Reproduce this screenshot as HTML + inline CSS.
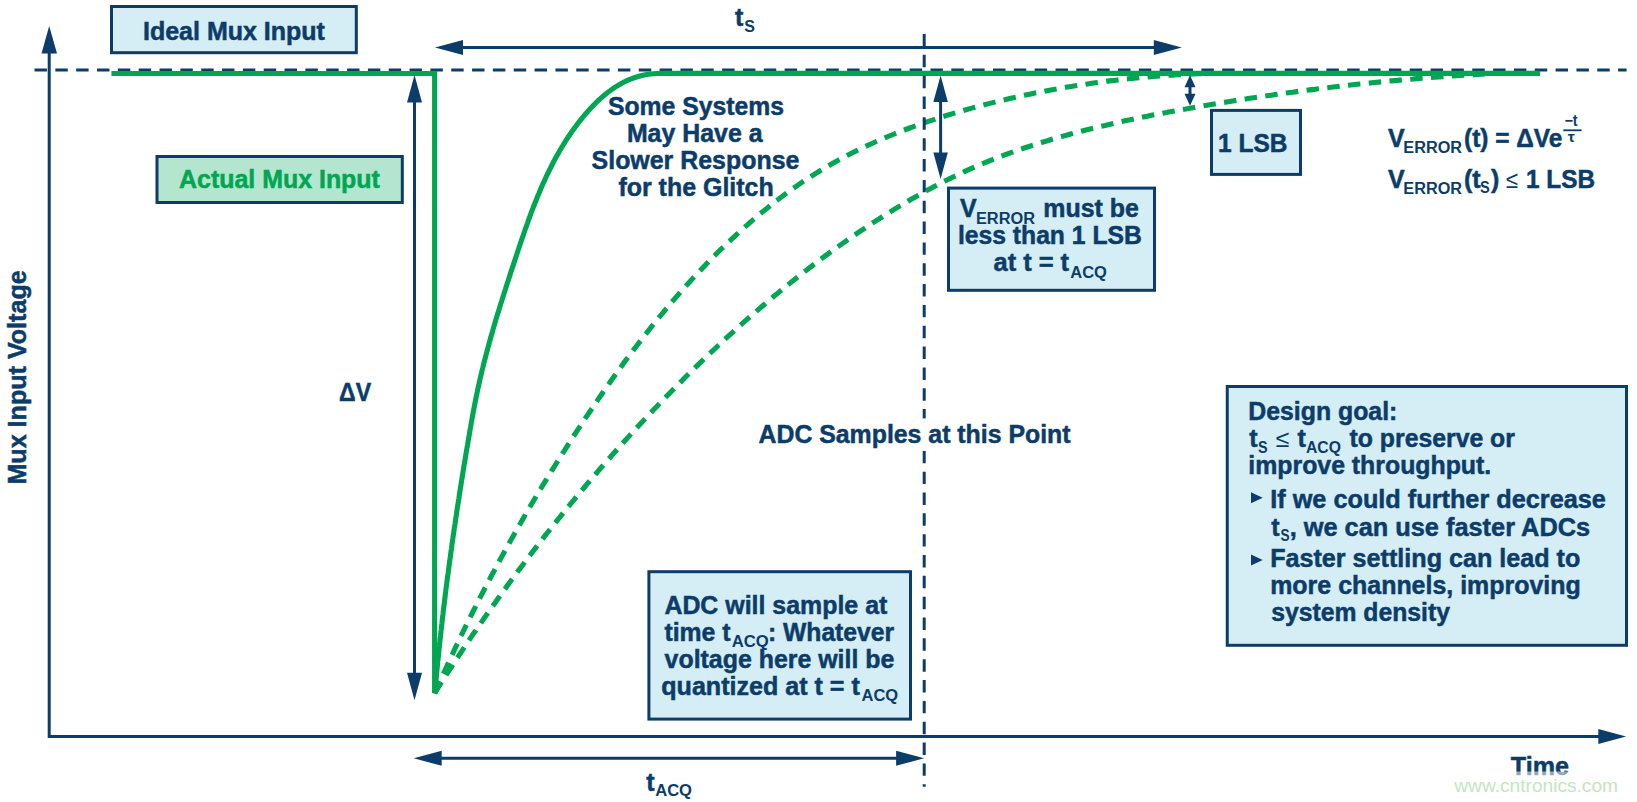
<!DOCTYPE html>
<html lang="en"><head><meta charset="utf-8"><title>Mux Input Settling</title>
<style>
html,body{margin:0;padding:0;background:#fff;}
body{width:1637px;height:802px;overflow:hidden;}
svg{display:block;font-family:"Liberation Sans", Arial, Helvetica, sans-serif;}
text{white-space:pre;}
</style></head><body>
<svg width="1637" height="802" viewBox="0 0 1637 802">
<rect width="1637" height="802" fill="#fff"/>
<line x1="34.5" y1="70" x2="1626.6" y2="70" stroke="#0c3c69" stroke-width="3.0" stroke-dasharray="12.45 8.387"/>
<g fill="none" stroke="#00a651" stroke-width="5.1">
<path d="M111.45,73.45 H434.6 V692 " stroke-linejoin="miter"/>
<path d="M434.9,692.8 L435.2,689.6 L435.5,686.5 L435.7,683.3 L436.0,680.2 L436.3,677.0 L436.6,673.9 L436.9,670.7 L437.2,667.6 L437.5,664.4 L437.8,661.3 L438.2,658.1 L438.5,655.0 L438.8,651.8 L439.1,648.7 L439.5,645.5 L439.8,642.4 L440.1,639.3 L440.5,636.1 L440.8,633.0 L441.2,629.8 L441.5,626.7 L441.9,623.5 L442.2,620.4 L442.6,617.3 L443.0,614.1 L443.3,611.0 L443.7,607.9 L444.1,604.7 L444.5,601.6 L444.9,598.4 L445.2,595.3 L445.6,592.2 L446.0,589.0 L446.4,585.9 L446.8,582.8 L447.2,579.6 L447.6,576.5 L448.1,573.4 L448.5,570.2 L448.9,567.1 L449.3,564.0 L449.7,560.9 L450.2,557.7 L450.6,554.6 L451.0,551.5 L451.5,548.3 L451.9,545.2 L452.3,542.1 L452.8,538.9 L453.2,535.8 L453.7,532.7 L454.1,529.6 L454.6,526.4 L455.1,523.3 L455.5,520.2 L456.0,517.1 L456.5,513.9 L456.9,510.8 L457.4,507.7 L457.9,504.5 L458.4,501.4 L458.9,498.3 L459.3,495.2 L459.8,492.0 L460.3,488.9 L460.8,485.8 L461.3,482.7 L461.8,479.5 L462.3,476.4 L462.8,473.3 L463.3,470.2 L463.8,467.0 L464.3,463.9 L464.9,460.8 L465.4,457.7 L465.9,454.5 L466.4,451.4 L466.9,448.3 L467.5,445.2 L468.0,442.0 L468.5,438.9 L469.1,435.8 L469.6,432.7 L470.1,429.6 L470.7,426.4 L471.2,423.3 L471.8,420.2 L472.3,417.1 L472.9,414.0 L473.5,410.8 L474.1,407.7 L474.7,404.6 L475.3,401.5 L475.9,398.4 L476.5,395.3 L477.2,392.2 L477.8,389.1 L478.5,386.1 L479.2,383.0 L479.9,379.9 L480.6,376.8 L481.3,373.8 L482.0,370.7 L482.8,367.6 L483.5,364.6 L484.3,361.5 L485.1,358.5 L485.9,355.4 L486.7,352.4 L487.5,349.4 L488.3,346.3 L489.1,343.3 L490.0,340.3 L490.8,337.2 L491.7,334.2 L492.6,331.2 L493.4,328.2 L494.3,325.1 L495.2,322.1 L496.1,319.1 L497.0,316.1 L497.9,313.1 L498.9,310.1 L499.8,307.0 L500.7,304.0 L501.7,301.0 L502.6,298.0 L503.6,295.0 L504.5,292.0 L505.5,289.0 L506.4,286.0 L507.4,283.0 L508.4,280.0 L509.4,276.9 L510.3,273.9 L511.3,270.9 L512.3,267.9 L513.3,264.9 L514.3,261.9 L515.3,258.9 L516.3,255.9 L517.3,252.8 L518.3,249.8 L519.3,246.8 L520.3,243.8 L521.3,240.8 L522.3,237.8 L523.4,234.8 L524.4,231.8 L525.4,228.8 L526.5,225.8 L527.6,222.8 L528.6,219.8 L529.7,216.8 L530.8,213.8 L531.9,210.8 L533.1,207.9 L534.2,204.9 L535.4,202.0 L536.6,199.0 L537.7,196.1 L539.0,193.2 L540.2,190.2 L541.4,187.3 L542.7,184.4 L544.0,181.6 L545.3,178.7 L546.6,175.8 L548.0,173.0 L549.4,170.1 L550.8,167.3 L552.2,164.5 L553.6,161.7 L555.1,158.9 L556.6,156.2 L558.2,153.4 L559.7,150.7 L561.3,148.0 L563.0,145.3 L564.6,142.6 L566.3,139.9 L568.0,137.3 L569.8,134.7 L571.6,132.0 L573.4,129.5 L575.3,126.9 L577.2,124.4 L579.1,121.8 L581.1,119.3 L583.1,116.9 L585.2,114.4 L587.3,112.0 L589.4,109.6 L591.6,107.3 L593.8,105.0 L596.0,102.7 L598.3,100.5 L600.7,98.4 L603.0,96.3 L605.5,94.3 L607.9,92.3 L610.4,90.5 L613.0,88.7 L615.6,86.9 L618.2,85.3 L620.9,83.8 L623.6,82.3 L626.4,80.9 L629.2,79.7 L632.1,78.5 L635.0,77.5 L638.0,76.5 L641.0,75.7 L644.0,75.0 L647.1,74.4 L650.3,74.0 L653.5,73.7 L656.7,73.5 L660.0,73.4 H1540" stroke-linejoin="round"/>
<polygon points="432,690 437,690 437.3,694.5 432,693" fill="#00a651" stroke="none"/>
<path d="M434.9,692.8 L436.6,689.0 L438.2,685.3 L439.9,681.5 L441.6,677.7 L443.3,674.0 L445.0,670.2 L446.7,666.5 L448.4,662.8 L450.1,659.0 L451.9,655.3 L453.6,651.6 L455.3,647.9 L457.1,644.2 L458.9,640.5 L460.6,636.7 L462.4,633.1 L464.2,629.4 L466.0,625.7 L467.8,622.0 L469.7,618.3 L471.5,614.6 L473.3,611.0 L475.2,607.3 L477.0,603.6 L478.9,600.0 L480.7,596.3 L482.6,592.7 L484.5,589.0 L486.4,585.4 L488.3,581.8 L490.2,578.2 L492.1,574.5 L494.1,570.9 L496.0,567.3 L497.9,563.7 L499.9,560.1 L501.9,556.5 L503.8,552.9 L505.8,549.3 L507.8,545.7 L509.8,542.1 L511.8,538.6 L513.8,535.0 L515.8,531.4 L517.8,527.9 L519.9,524.3 L521.9,520.7 L523.9,517.2 L526.0,513.7 L528.1,510.1 L530.1,506.6 L532.2,503.0 L534.3,499.5 L536.4,496.0 L538.5,492.5 L540.6,489.0 L542.7,485.4 L544.9,481.9 L547.0,478.4 L549.2,474.9 L551.3,471.4 L553.5,468.0 L555.6,464.5 L557.8,461.0 L560.0,457.5 L562.2,454.0 L564.4,450.6 L566.6,447.1 L568.8,443.6 L571.0,440.2 L573.2,436.7 L575.5,433.3 L577.7,429.8 L580.0,426.4 L582.2,423.0 L584.5,419.5 L586.8,416.1 L589.1,412.7 L591.4,409.3 L593.7,405.9 L596.0,402.5 L598.3,399.1 L600.6,395.7 L603.0,392.3 L605.3,388.9 L607.7,385.5 L610.0,382.2 L612.4,378.8 L614.8,375.5 L617.2,372.1 L619.6,368.8 L622.0,365.5 L624.4,362.1 L626.9,358.8 L629.3,355.5 L631.8,352.2 L634.3,348.9 L636.8,345.7 L639.3,342.4 L641.8,339.2 L644.3,335.9 L646.8,332.7 L649.4,329.4 L651.9,326.2 L654.5,323.0 L657.1,319.8 L659.7,316.7 L662.3,313.5 L664.9,310.3 L667.5,307.2 L670.2,304.0 L672.8,300.9 L675.5,297.8 L678.2,294.7 L680.9,291.6 L683.6,288.6 L686.3,285.5 L689.1,282.5 L691.9,279.4 L694.6,276.4 L697.4,273.4 L700.2,270.4 L703.1,267.4 L705.9,264.5 L708.7,261.5 L711.6,258.6 L714.5,255.7 L717.4,252.8 L720.3,249.9 L723.3,247.1 L726.2,244.2 L729.2,241.4 L732.2,238.6 L735.2,235.8 L738.2,233.0 L741.2,230.2 L744.3,227.5 L747.4,224.8 L750.4,222.1 L753.6,219.4 L756.7,216.7 L759.8,214.1 L763.0,211.5 L766.2,208.9 L769.4,206.3 L772.6,203.7 L775.8,201.2 L779.1,198.7 L782.4,196.3 L785.7,193.8 L789.0,191.4 L792.3,189.0 L795.7,186.7 L799.0,184.3 L802.4,182.0 L805.8,179.8 L809.3,177.5 L812.7,175.3 L816.2,173.1 L819.7,171.0 L823.2,168.9 L826.7,166.8 L830.3,164.7 L833.8,162.7 L837.4,160.7 L841.0,158.8 L844.6,156.8 L848.2,154.9 L851.9,153.1 L855.5,151.2 L859.2,149.4 L862.9,147.6 L866.6,145.9 L870.3,144.2 L874.1,142.5 L877.8,140.8 L881.6,139.2 L885.4,137.6 L889.2,136.0 L893.0,134.5 L896.8,132.9 L900.6,131.4 L904.4,130.0 L908.3,128.5 L912.1,127.1 L916.0,125.7 L919.9,124.3 L923.8,122.9 L927.7,121.6 L931.6,120.3 L935.5,119.0 L939.4,117.8 L943.3,116.5 L947.2,115.3 L951.2,114.1 L955.1,112.9 L959.1,111.7 L963.0,110.6 L967.0,109.5 L970.9,108.4 L974.9,107.3 L978.9,106.2 L982.8,105.1 L986.8,104.1 L990.8,103.1 L994.8,102.1 L998.8,101.1 L1002.8,100.1 L1006.8,99.2 L1010.8,98.3 L1014.8,97.4 L1018.8,96.5 L1022.8,95.6 L1026.8,94.7 L1030.8,93.9 L1034.8,93.1 L1038.9,92.3 L1042.9,91.5 L1046.9,90.7 L1051.0,89.9 L1055.0,89.2 L1059.0,88.5 L1063.1,87.8 L1067.1,87.1 L1071.2,86.4 L1075.2,85.8 L1079.3,85.1 L1083.3,84.5 L1087.4,83.9 L1091.4,83.3 L1095.5,82.7 L1099.6,82.2 L1103.6,81.7 L1107.7,81.1 L1111.8,80.6 L1115.9,80.2 L1119.9,79.7 L1124.0,79.2 L1128.1,78.8 L1132.2,78.4 L1136.3,78.0 L1140.3,77.6 L1144.4,77.2 L1148.5,76.9 L1152.6,76.5 L1156.7,76.2 L1160.8,75.9 L1164.9,75.6 L1169.0,75.3 L1173.1,75.1 L1177.2,74.8 L1181.3,74.6 L1185.4,74.4 L1189.5,74.2 L1193.6,74.0 L1197.7,73.8 L1201.8,73.7 L1205.9,73.6 L1210.0,73.4" stroke-dasharray="12.45 8.4"/>
<path d="M434.9,692.8 L437.2,689.1 L439.5,685.5 L441.8,681.8 L444.2,678.2 L446.5,674.5 L448.8,670.9 L451.2,667.3 L453.5,663.6 L455.9,660.0 L458.3,656.4 L460.7,652.8 L463.1,649.2 L465.5,645.6 L467.9,642.0 L470.3,638.4 L472.7,634.8 L475.2,631.3 L477.6,627.7 L480.1,624.1 L482.5,620.6 L485.0,617.0 L487.5,613.5 L490.0,609.9 L492.5,606.4 L495.0,602.9 L497.5,599.3 L500.0,595.8 L502.5,592.3 L505.1,588.8 L507.6,585.3 L510.2,581.8 L512.7,578.3 L515.3,574.8 L517.9,571.3 L520.5,567.9 L523.1,564.4 L525.7,560.9 L528.3,557.5 L530.9,554.0 L533.5,550.6 L536.2,547.2 L538.8,543.7 L541.5,540.3 L544.1,536.9 L546.8,533.5 L549.5,530.1 L552.2,526.7 L554.9,523.3 L557.6,519.9 L560.3,516.6 L563.0,513.2 L565.7,509.8 L568.5,506.5 L571.2,503.1 L574.0,499.8 L576.7,496.4 L579.5,493.1 L582.3,489.8 L585.1,486.5 L587.8,483.2 L590.6,479.9 L593.5,476.6 L596.3,473.3 L599.1,470.0 L601.9,466.7 L604.8,463.5 L607.6,460.2 L610.5,457.0 L613.3,453.7 L616.2,450.5 L619.1,447.3 L622.0,444.0 L624.9,440.8 L627.8,437.6 L630.7,434.4 L633.6,431.2 L636.6,428.0 L639.5,424.8 L642.4,421.7 L645.4,418.5 L648.4,415.4 L651.3,412.2 L654.3,409.1 L657.3,405.9 L660.3,402.8 L663.3,399.7 L666.3,396.6 L669.3,393.5 L672.3,390.4 L675.4,387.3 L678.4,384.2 L681.5,381.2 L684.5,378.1 L687.6,375.0 L690.7,372.0 L693.8,369.0 L696.9,365.9 L700.0,362.9 L703.1,359.9 L706.2,356.9 L709.3,353.9 L712.5,351.0 L715.6,348.0 L718.8,345.0 L721.9,342.1 L725.1,339.1 L728.3,336.2 L731.5,333.3 L734.7,330.4 L737.9,327.5 L741.1,324.6 L744.4,321.7 L747.6,318.9 L750.9,316.0 L754.1,313.2 L757.4,310.3 L760.7,307.5 L764.0,304.7 L767.3,301.9 L770.6,299.1 L773.9,296.3 L777.2,293.6 L780.6,290.8 L783.9,288.1 L787.3,285.3 L790.6,282.6 L794.0,279.9 L797.4,277.2 L800.8,274.5 L804.2,271.9 L807.6,269.2 L811.1,266.6 L814.5,264.0 L818.0,261.3 L821.4,258.7 L824.9,256.2 L828.4,253.6 L831.9,251.0 L835.4,248.5 L838.9,246.0 L842.5,243.5 L846.0,241.0 L849.6,238.5 L853.1,236.0 L856.7,233.6 L860.3,231.2 L863.9,228.8 L867.5,226.4 L871.1,224.0 L874.7,221.6 L878.4,219.3 L882.0,217.0 L885.7,214.6 L889.4,212.4 L893.0,210.1 L896.7,207.8 L900.4,205.6 L904.2,203.4 L907.9,201.2 L911.6,199.0 L915.4,196.9 L919.2,194.7 L923.0,192.6 L926.7,190.5 L930.6,188.5 L934.4,186.4 L938.2,184.4 L942.0,182.4 L945.9,180.5 L949.8,178.6 L953.7,176.7 L957.6,174.8 L961.5,172.9 L965.4,171.1 L969.3,169.4 L973.3,167.6 L977.3,165.9 L981.3,164.2 L985.2,162.5 L989.3,160.9 L993.3,159.3 L997.3,157.8 L1001.4,156.2 L1005.4,154.7 L1009.5,153.2 L1013.5,151.7 L1017.6,150.3 L1021.7,148.9 L1025.8,147.5 L1029.9,146.2 L1034.1,144.8 L1038.2,143.5 L1042.3,142.2 L1046.5,141.0 L1050.6,139.7 L1054.8,138.5 L1058.9,137.3 L1063.1,136.1 L1067.2,135.0 L1071.4,133.8 L1075.6,132.7 L1079.8,131.6 L1084.0,130.5 L1088.2,129.4 L1092.4,128.4 L1096.6,127.4 L1100.8,126.3 L1105.0,125.4 L1109.2,124.4 L1113.4,123.4 L1117.6,122.5 L1121.9,121.5 L1126.1,120.6 L1130.3,119.7 L1134.6,118.8 L1138.8,117.9 L1143.0,117.0 L1147.3,116.2 L1151.5,115.3 L1155.8,114.5 L1160.0,113.7 L1164.3,112.9 L1168.5,112.1 L1172.8,111.3 L1177.1,110.5 L1181.3,109.7 L1185.6,109.0 L1189.9,108.2 L1194.1,107.4 L1198.4,106.7 L1202.6,106.0 L1206.9,105.2 L1211.2,104.5 L1215.5,103.8 L1219.7,103.1 L1224.0,102.4 L1228.3,101.7 L1232.5,101.0 L1236.8,100.3 L1241.1,99.6 L1245.4,99.0 L1249.7,98.3 L1253.9,97.7 L1258.2,97.0 L1262.5,96.4 L1266.8,95.8 L1271.1,95.2 L1275.4,94.5 L1279.6,93.9 L1283.9,93.3 L1288.2,92.7 L1292.5,92.2 L1296.8,91.6 L1301.1,91.0 L1305.4,90.5 L1309.7,89.9 L1314.0,89.4 L1318.2,88.8 L1322.5,88.3 L1326.8,87.8 L1331.1,87.3 L1335.4,86.8 L1339.7,86.3 L1344.0,85.8 L1348.3,85.3 L1352.6,84.8 L1356.9,84.3 L1361.2,83.9 L1365.5,83.4 L1369.8,83.0 L1374.2,82.5 L1378.5,82.1 L1382.8,81.7 L1387.1,81.3 L1391.4,80.9 L1395.7,80.5 L1400.0,80.1 L1404.3,79.7 L1408.6,79.3 L1412.9,79.0 L1417.2,78.6 L1421.6,78.2 L1425.9,77.9 L1430.2,77.6 L1434.5,77.2 L1438.8,76.9 L1443.1,76.6 L1447.5,76.3 L1451.8,76.0 L1456.1,75.7 L1460.4,75.4 L1464.7,75.1 L1469.1,74.9 L1473.4,74.6 L1477.7,74.4 L1482.0,74.1 L1486.4,73.9 L1490.7,73.7 L1495.0,73.4" stroke-dasharray="12.45 8.4"/>
</g>
<line x1="924.2" y1="34" x2="924.2" y2="786.8" stroke="#0c3c69" stroke-width="3.0" stroke-dasharray="12.45 8.39"/>
<rect x="920" y="418.4" width="9" height="32.4" fill="#fff"/>
<path d="M49.2,52 V736.4 H1600" fill="none" stroke="#0c3c69" stroke-width="3.0"/>
<polygon points="49.2,26 41.5,53.5 57,53.5" fill="#0c3c69"/>
<polygon points="1626.1,736.4 1598.3,729 1598.3,743.9" fill="#0c3c69"/>
<line x1="461" y1="47.5" x2="1155.8" y2="47.5" stroke="#0c3c69" stroke-width="3.0"/><polygon points="435,47.5 463,40.0 463,55.0" fill="#0c3c69"/><polygon points="1181.8,47.5 1153.8,40.0 1153.8,55.0" fill="#0c3c69"/>
<line x1="439.7" y1="758.3" x2="898.1" y2="758.3" stroke="#0c3c69" stroke-width="3.0"/><polygon points="413.7,758.3 441.7,750.8 441.7,765.8" fill="#0c3c69"/><polygon points="924.1,758.3 896.1,750.8 896.1,765.8" fill="#0c3c69"/>
<line x1="414.5" y1="100.5" x2="414.5" y2="674.8" stroke="#0c3c69" stroke-width="3.0"/><polygon points="414.5,75 407.0,102.5 422.0,102.5" fill="#0c3c69"/><polygon points="414.5,700.3 407.0,672.8 422.0,672.8" fill="#0c3c69"/>
<line x1="940.6" y1="100.0" x2="940.6" y2="154.4" stroke="#0c3c69" stroke-width="3.0"/><polygon points="940.6,75.5 933.35,102.0 947.85,102.0" fill="#0c3c69"/><polygon points="940.6,178.9 933.35,152.4 947.85,152.4" fill="#0c3c69"/>
<line x1="1190" y1="85.3" x2="1190" y2="95.8" stroke="#0c3c69" stroke-width="3.0"/><polygon points="1190,75.3 1184.5,87.3 1195.5,87.3" fill="#0c3c69"/><polygon points="1190,105.8 1184.5,93.8 1195.5,93.8" fill="#0c3c69"/>
<rect x="111.50" y="6.50" width="244.80" height="46.20" fill="#d5eef6" stroke="#0c3c69" stroke-width="3.0"/>
<rect x="157.00" y="156.50" width="245.30" height="46.00" fill="#b3e5cf" stroke="#0c3c69" stroke-width="3.0"/>
<rect x="948.50" y="188.10" width="206.00" height="102.20" fill="#d5eef6" stroke="#0c3c69" stroke-width="3.0"/>
<rect x="648.90" y="571.70" width="261.60" height="147.40" fill="#d5eef6" stroke="#0c3c69" stroke-width="3.0"/>
<rect x="1211.50" y="110.40" width="89.00" height="64.00" fill="#d5eef6" stroke="#0c3c69" stroke-width="3.0"/>
<rect x="1227.25" y="386.50" width="399.25" height="258.80" fill="#d5eef6" stroke="#0c3c69" stroke-width="3.0"/>
<text x="143.0" y="40" font-size="25" font-weight="bold" fill="#0c3c69" text-anchor="start" textLength="181.9" lengthAdjust="spacingAndGlyphs" stroke="#0c3c69" stroke-width="0.5">Ideal Mux Input</text>
<text x="179.0" y="187.8" font-size="25" font-weight="bold" fill="#00a651" text-anchor="start" textLength="200.9" lengthAdjust="spacingAndGlyphs" stroke="#00a651" stroke-width="0.5">Actual Mux Input</text>
<text x="735.0" y="26" font-size="25" font-weight="bold" fill="#0c3c69" text-anchor="start" stroke="#0c3c69" stroke-width="0.5">t</text>
<text x="744.2" y="31.8" font-size="16" font-weight="bold" fill="#0c3c69" text-anchor="start">S</text>
<text x="607.9" y="115.0" font-size="25" font-weight="bold" fill="#0c3c69" text-anchor="start" textLength="176.2" lengthAdjust="spacingAndGlyphs" stroke="#0c3c69" stroke-width="0.5">Some Systems</text>
<text x="626.9" y="141.95" font-size="25" font-weight="bold" fill="#0c3c69" text-anchor="start" textLength="135.6" lengthAdjust="spacingAndGlyphs" stroke="#0c3c69" stroke-width="0.5">May Have a</text>
<text x="591.6" y="168.9" font-size="25" font-weight="bold" fill="#0c3c69" text-anchor="start" textLength="207.8" lengthAdjust="spacingAndGlyphs" stroke="#0c3c69" stroke-width="0.5">Slower Response</text>
<text x="618.4" y="195.85" font-size="25" font-weight="bold" fill="#0c3c69" text-anchor="start" textLength="155.3" lengthAdjust="spacingAndGlyphs" stroke="#0c3c69" stroke-width="0.5">for the Glitch</text>
<text x="339.07" y="400.5" font-size="25" font-weight="bold" fill="#0c3c69" text-anchor="start" textLength="32.1" lengthAdjust="spacingAndGlyphs" stroke="#0c3c69" stroke-width="0.5">ΔV</text>
<text x="758.5" y="442.5" font-size="25" font-weight="bold" fill="#0c3c69" text-anchor="start" textLength="312.0" lengthAdjust="spacingAndGlyphs" stroke="#0c3c69" stroke-width="0.5">ADC Samples at this Point</text>
<text transform="translate(25.5,484.60) rotate(-90)" font-size="25" font-weight="bold" fill="#0c3c69" stroke="#0c3c69" stroke-width="0.5" textLength="214.3" lengthAdjust="spacingAndGlyphs">Mux Input Voltage</text>
<text x="1510.8" y="775.1" font-size="25" font-weight="bold" fill="#0c3c69" text-anchor="start" textLength="58.2" lengthAdjust="spacingAndGlyphs" stroke="#0c3c69" stroke-width="0.5">Time</text>
<text x="646.3" y="791.2" font-size="25" font-weight="bold" fill="#0c3c69" text-anchor="start" stroke="#0c3c69" stroke-width="0.5">t</text>
<text x="655.2" y="796" font-size="16" font-weight="bold" fill="#0c3c69" text-anchor="start" textLength="36.8" lengthAdjust="spacingAndGlyphs">ACQ</text>
<text x="1218.02" y="151.5" font-size="25" font-weight="bold" fill="#0c3c69" text-anchor="start" textLength="69.4" lengthAdjust="spacingAndGlyphs" stroke="#0c3c69" stroke-width="0.5">1 LSB</text>
<text x="960.0" y="217" font-size="25" font-weight="bold" fill="#0c3c69" text-anchor="start" stroke="#0c3c69" stroke-width="0.5">V</text>
<text x="975.98" y="223.5" font-size="16" font-weight="bold" fill="#0c3c69" text-anchor="start" textLength="59.0" lengthAdjust="spacingAndGlyphs">ERROR</text>
<text x="1043.3" y="217" font-size="25" font-weight="bold" fill="#0c3c69" text-anchor="start" textLength="95.6" lengthAdjust="spacingAndGlyphs" stroke="#0c3c69" stroke-width="0.5">must be</text>
<text x="957.91" y="243.8" font-size="25" font-weight="bold" fill="#0c3c69" text-anchor="start" textLength="183.9" lengthAdjust="spacingAndGlyphs" stroke="#0c3c69" stroke-width="0.5">less than 1 LSB</text>
<text x="993.5" y="271.3" font-size="25" font-weight="bold" fill="#0c3c69" text-anchor="start" textLength="75.6" lengthAdjust="spacingAndGlyphs" stroke="#0c3c69" stroke-width="0.5">at t = t</text>
<text x="1070.3" y="277.8" font-size="16" font-weight="bold" fill="#0c3c69" text-anchor="start" textLength="36.6" lengthAdjust="spacingAndGlyphs">ACQ</text>
<text x="664.4" y="613.9" font-size="25" font-weight="bold" fill="#0c3c69" text-anchor="start" textLength="222.9" lengthAdjust="spacingAndGlyphs" stroke="#0c3c69" stroke-width="0.5">ADC will sample at</text>
<text x="664.4" y="641" font-size="25" font-weight="bold" fill="#0c3c69" text-anchor="start" textLength="66.1" lengthAdjust="spacingAndGlyphs" stroke="#0c3c69" stroke-width="0.5">time t</text>
<text x="731.8" y="647" font-size="16" font-weight="bold" fill="#0c3c69" text-anchor="start" textLength="37.0" lengthAdjust="spacingAndGlyphs">ACQ</text>
<text x="767.93" y="641" font-size="25" font-weight="bold" fill="#0c3c69" text-anchor="start" textLength="126.2" lengthAdjust="spacingAndGlyphs" stroke="#0c3c69" stroke-width="0.5">: Whatever</text>
<text x="664.6" y="667.9" font-size="25" font-weight="bold" fill="#0c3c69" text-anchor="start" textLength="229.7" lengthAdjust="spacingAndGlyphs" stroke="#0c3c69" stroke-width="0.5">voltage here will be</text>
<text x="661.3" y="694.9" font-size="25" font-weight="bold" fill="#0c3c69" text-anchor="start" textLength="198.5" lengthAdjust="spacingAndGlyphs" stroke="#0c3c69" stroke-width="0.5">quantized at t = t</text>
<text x="861.5" y="701" font-size="16" font-weight="bold" fill="#0c3c69" text-anchor="start" textLength="36.6" lengthAdjust="spacingAndGlyphs">ACQ</text>
<text x="1388.0" y="146.9" font-size="25" font-weight="bold" fill="#0c3c69" text-anchor="start" stroke="#0c3c69" stroke-width="0.5">V</text>
<text x="1403.39" y="152.5" font-size="16" font-weight="bold" fill="#0c3c69" text-anchor="start" textLength="58.6" lengthAdjust="spacingAndGlyphs">ERROR</text>
<text x="1388.0" y="188" font-size="25" font-weight="bold" fill="#0c3c69" text-anchor="start" stroke="#0c3c69" stroke-width="0.5">V</text>
<text x="1403.39" y="193.6" font-size="16" font-weight="bold" fill="#0c3c69" text-anchor="start" textLength="58.6" lengthAdjust="spacingAndGlyphs">ERROR</text>
<text x="1464.02" y="146.9" font-size="25" font-weight="bold" fill="#0c3c69" text-anchor="start" textLength="98.4" lengthAdjust="spacingAndGlyphs" stroke="#0c3c69" stroke-width="0.5">(t) = ΔVe</text>
<text x="1564.4" y="125.7" font-size="16" font-weight="bold" fill="#0c3c69" text-anchor="start" textLength="13.2" lengthAdjust="spacingAndGlyphs">−t</text>
<rect x="1563.3" y="129.4" width="18.3" height="1.8" fill="#0c3c69"/>
<text x="1567.7" y="141.8" font-size="15" font-weight="bold" fill="#0c3c69" text-anchor="start" textLength="7.0" lengthAdjust="spacingAndGlyphs">τ</text>
<text x="1464" y="188" font-size="25" font-weight="bold" fill="#0c3c69" text-anchor="start" stroke="#0c3c69" stroke-width="0.5">(t</text>
<text x="1480.0" y="193" font-size="16" font-weight="bold" fill="#0c3c69" text-anchor="start" textLength="9.7" lengthAdjust="spacingAndGlyphs">S</text>
<text x="1491.0" y="188" font-size="25" font-weight="bold" fill="#0c3c69" text-anchor="start" stroke="#0c3c69" stroke-width="0.5">)</text>
<text x="1505.8" y="188" font-size="24" font-weight="normal" fill="#0c3c69" text-anchor="start" textLength="12.2" lengthAdjust="spacingAndGlyphs">≤</text>
<text x="1526.03" y="188" font-size="25" font-weight="bold" fill="#0c3c69" text-anchor="start" textLength="69.0" lengthAdjust="spacingAndGlyphs" stroke="#0c3c69" stroke-width="0.5">1 LSB</text>
<text x="1248.31" y="419.7" font-size="25" font-weight="bold" fill="#0c3c69" text-anchor="start" textLength="149.0" lengthAdjust="spacingAndGlyphs" stroke="#0c3c69" stroke-width="0.5">Design goal:</text>
<text x="1249.3" y="447.3" font-size="25" font-weight="bold" fill="#0c3c69" text-anchor="start" stroke="#0c3c69" stroke-width="0.5">t</text>
<text x="1257.9" y="452.5" font-size="16" font-weight="bold" fill="#0c3c69" text-anchor="start" textLength="9.6" lengthAdjust="spacingAndGlyphs">S</text>
<text x="1275.5" y="447.3" font-size="24" font-weight="normal" fill="#0c3c69" text-anchor="start" textLength="13.7" lengthAdjust="spacingAndGlyphs">≤</text>
<text x="1297.4" y="447.3" font-size="25" font-weight="bold" fill="#0c3c69" text-anchor="start" stroke="#0c3c69" stroke-width="0.5">t</text>
<text x="1306.0" y="452.5" font-size="16" font-weight="bold" fill="#0c3c69" text-anchor="start" textLength="34.9" lengthAdjust="spacingAndGlyphs">ACQ</text>
<text x="1349.6" y="447.3" font-size="25" font-weight="bold" fill="#0c3c69" text-anchor="start" textLength="165.3" lengthAdjust="spacingAndGlyphs" stroke="#0c3c69" stroke-width="0.5">to preserve or</text>
<text x="1248.31" y="474.2" font-size="25" font-weight="bold" fill="#0c3c69" text-anchor="start" textLength="242.9" lengthAdjust="spacingAndGlyphs" stroke="#0c3c69" stroke-width="0.5">improve throughput.</text>
<polygon points="1251,492.3 1262.7,497.8 1251,503.3" fill="#0c3c69"/>
<text x="1270.19" y="507.9" font-size="25" font-weight="bold" fill="#0c3c69" text-anchor="start" textLength="335.7" lengthAdjust="spacingAndGlyphs" stroke="#0c3c69" stroke-width="0.5">If we could further decrease</text>
<text x="1271.2" y="535.5" font-size="25" font-weight="bold" fill="#0c3c69" text-anchor="start" stroke="#0c3c69" stroke-width="0.5">t</text>
<text x="1280.6" y="540.5" font-size="16" font-weight="bold" fill="#0c3c69" text-anchor="start" textLength="9.1" lengthAdjust="spacingAndGlyphs">S</text>
<text x="1289.69" y="535.5" font-size="25" font-weight="bold" fill="#0c3c69" text-anchor="start" textLength="300.4" lengthAdjust="spacingAndGlyphs" stroke="#0c3c69" stroke-width="0.5">, we can use faster ADCs</text>
<polygon points="1251,554.5 1262.7,560 1251,565.5" fill="#0c3c69"/>
<text x="1270.19" y="566.8" font-size="25" font-weight="bold" fill="#0c3c69" text-anchor="start" textLength="310.1" lengthAdjust="spacingAndGlyphs" stroke="#0c3c69" stroke-width="0.5">Faster settling can lead to</text>
<text x="1270.2" y="593.7" font-size="25" font-weight="bold" fill="#0c3c69" text-anchor="start" textLength="310.6" lengthAdjust="spacingAndGlyphs" stroke="#0c3c69" stroke-width="0.5">more channels, improving</text>
<text x="1271.2" y="620.7" font-size="25" font-weight="bold" fill="#0c3c69" text-anchor="start" textLength="178.7" lengthAdjust="spacingAndGlyphs" stroke="#0c3c69" stroke-width="0.5">system density</text>
<rect x="1437" y="771.5" width="200" height="31" fill="#fff" opacity="0.55"/>
<text x="1454.31" y="792.1" font-size="19" font-weight="normal" fill="#c5e5c0" text-anchor="start" textLength="163.7" lengthAdjust="spacingAndGlyphs">www.cntronics.com</text>
</svg></body></html>
